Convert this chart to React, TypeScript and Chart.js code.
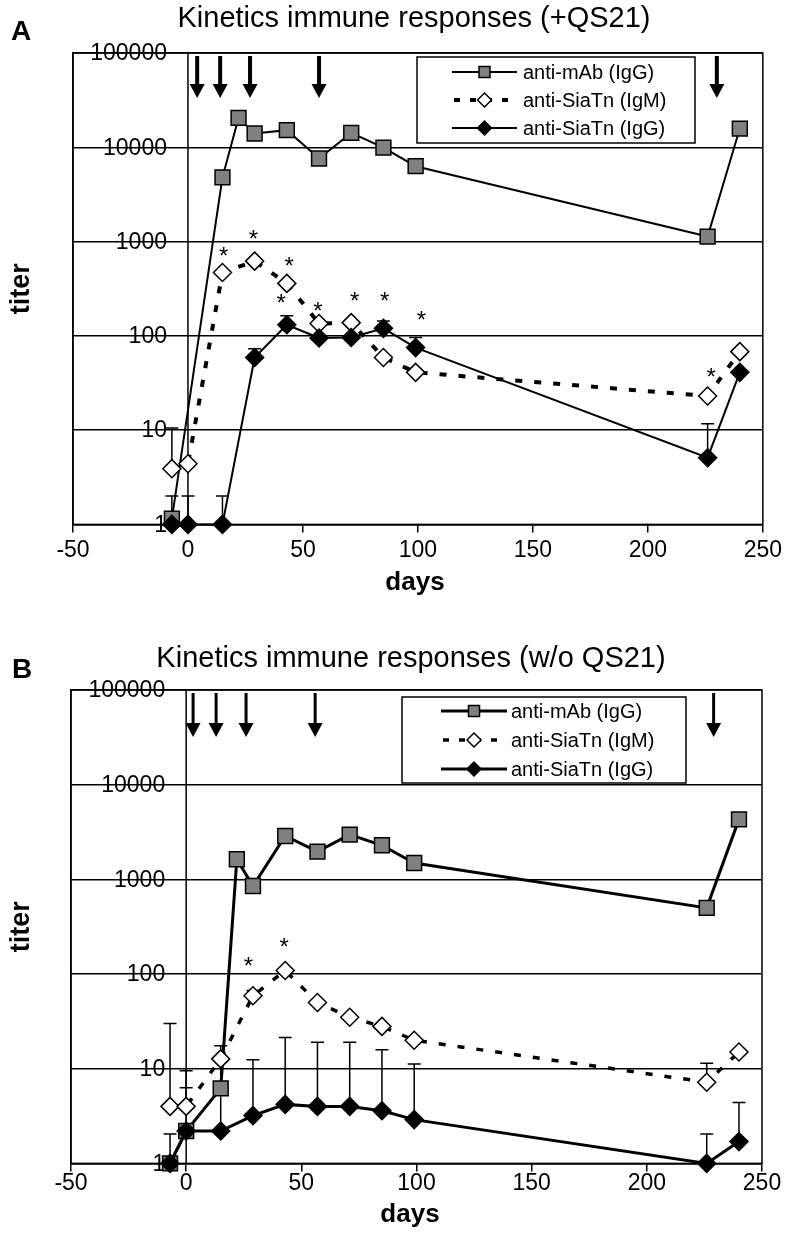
import React, { useEffect, useRef } from 'react';
import { Chart, registerables } from 'chart.js';

Chart.register(...registerables);

const FONT = '"Liberation Sans", Arial, Helvetica, sans-serif';

// ---------- Panel A (+QS21) ----------
const A_MAB_DAYS = [-7, 15, 22, 29, 43, 57, 71, 85, 99, 226, 240];
const A_MAB = [1.15, 4800, 20500, 14000, 15200, 7600, 14200, 9900, 6300, 1130, 15800];
const A_DAYS = [-7, 0, 15, 29, 43, 57, 71, 85, 99, 226, 240];
const A_IGM = [3.9, 4.4, 470, 620, 360, 135, 138, 59, 41, 23, 68];
const A_IGG = [1, 1, 1, 59, 131, 95, 96, 120, 75, 5.1, 41];
const A_IGM_ERR = [10.5, null, null, null, null, null, null, null, null, null, null];
const A_IGG_ERR = [2, 2, 2, 73, 163, null, null, 144, 96, 11.7, null];
const A_ARROWS = [4, 14, 27, 57, 230];
const A_STAR_DAYS = [15.5, 28.5, 44, 40.5, 56.5, 72.5, 85.5, 101.5, 227.5];
const A_STAR_VALUES = [800, 1220, 630, 255, 210, 265, 265, 170, 42];

// ---------- Panel B (w/o QS21) ----------
const B_MAB_DAYS = [-7, 0, 15, 22, 29, 43, 57, 71, 85, 99, 226, 240];
const B_MAB = [1, 2.2, 6.2, 1630, 850, 2870, 1960, 2970, 2290, 1490, 500, 4300];
const B_DAYS = [-7, 0, 15, 29, 43, 57, 71, 85, 99, 226, 240];
const B_IGM = [4.0, 4.0, 12.7, 59, 109, 50, 35, 28, 20, 7.2, 15];
const B_IGG = [1, 2.2, 2.2, 3.2, 4.2, 4.0, 4.0, 3.6, 2.9, 1, 1.7];
const B_IGM_ERR = [30, 9.5, null, 67, null, null, null, null, null, 11.4, null];
const B_IGG_ERR = [2.05, 6.3, 17.5, 12.4, 21.4, 19, 19, 15.9, 11.2, 2.04, 4.4];
const B_ARROWS = [3, 13, 26, 56, 229];
const B_STAR_DAYS = [27, 42.5];
const B_STAR_VALUES = [139, 222];

const Y_TICKS = [1, 10, 100, 1000, 10000, 100000];
const X_MIN = -50;
const X_MAX = 250;
const SERIES_LABELS = ['anti-mAb (IgG)', 'anti-SiaTn (IgM)', 'anti-SiaTn (IgG)'];

type Cfg = {
  top: number;
  height: number;
  letter: string;
  title: string;
  titleX: number;
  titleY: number;
  letterX: number;
  letterY: number;
  daysX: number;
  daysOffset: number;
  tickPad: number;
  padding: { left: number; right: number; top: number; bottom: number };
  lw: number;
  dashLw: number;
  mabDays: number[];
  mab: number[];
  days: number[];
  igm: number[];
  igg: number[];
  igmErr: (number | null)[];
  iggErr: (number | null)[];
  arrows: number[];
  arrowW: number;
  arrowLen: number;
  starDays: number[];
  starValues: number[];
  legend: { x1: number; y1: number; x2: number; y2: number; rows: number[]; l1: number; l2: number; tx: number };
};

const CFG_A: Cfg = {
  top: 0,
  height: 600,
  letter: 'A',
  title: 'Kinetics immune responses (+QS21)',
  titleX: 414,
  titleY: 27,
  letterX: 11,
  letterY: 40,
  daysX: 415,
  daysOffset: 66,
  tickPad: 4,
  padding: { left: 73, right: 22, top: 53, bottom: 32 },
  lw: 2,
  dashLw: 4,
  mabDays: A_MAB_DAYS,
  mab: A_MAB,
  days: A_DAYS,
  igm: A_IGM,
  igg: A_IGG,
  igmErr: A_IGM_ERR,
  iggErr: A_IGG_ERR,
  arrows: A_ARROWS,
  arrowW: 4,
  arrowLen: 45,
  starDays: A_STAR_DAYS,
  starValues: A_STAR_VALUES,
  legend: { x1: 417, y1: 57, x2: 695, y2: 143, rows: [72, 100, 128], l1: 452, l2: 517, tx: 523 },
};

const CFG_B: Cfg = {
  top: 600,
  height: 636,
  letter: 'B',
  title: 'Kinetics immune responses (w/o QS21)',
  titleX: 411,
  titleY: 67,
  letterX: 12,
  letterY: 78,
  daysX: 410,
  daysOffset: 59,
  tickPad: -2,
  padding: { left: 71, right: 24, top: 90, bottom: 41 },
  lw: 3,
  dashLw: 3.5,
  mabDays: B_MAB_DAYS,
  mab: B_MAB,
  days: B_DAYS,
  igm: B_IGM,
  igg: B_IGG,
  igmErr: B_IGM_ERR,
  iggErr: B_IGG_ERR,
  arrows: B_ARROWS,
  arrowW: 3,
  arrowLen: 47,
  starDays: B_STAR_DAYS,
  starValues: B_STAR_VALUES,
  legend: { x1: 402, y1: 97, x2: 686, y2: 183, rows: [111, 140, 169], l1: 441, l2: 507, tx: 511 },
};

function drawMarker(ctx: CanvasRenderingContext2D, kind: string, x: number, y: number, r: number, fill: string) {
  ctx.save();
  ctx.beginPath();
  if (kind === 'rect') {
    ctx.rect(x - r, y - r, 2 * r, 2 * r);
  } else {
    ctx.moveTo(x - r, y);
    ctx.lineTo(x, y - r);
    ctx.lineTo(x + r, y);
    ctx.lineTo(x, y + r);
    ctx.closePath();
  }
  ctx.fillStyle = fill;
  ctx.fill();
  ctx.lineWidth = 1.5;
  ctx.strokeStyle = '#000';
  ctx.setLineDash([]);
  ctx.stroke();
  ctx.restore();
}

function makePlugin(cfg: Cfg) {
  return {
    id: 'panelDecor' + cfg.letter,
    beforeDatasetsDraw(chart: any) {
      const { ctx, chartArea: ca, scales } = chart;
      const xs = scales.x;
      const ys = scales.y;
      ctx.save();
      ctx.strokeStyle = '#000';
      ctx.lineWidth = 1.5;
      ctx.strokeRect(ca.left, ca.top, ca.right - ca.left, ca.bottom - ca.top);
      const x0 = xs.getPixelForValue(0);
      ctx.beginPath();
      ctx.moveTo(x0, ca.top);
      ctx.lineTo(x0, ca.bottom);
      ctx.stroke();
      ctx.fillStyle = '#000';
      ctx.font = `23px ${FONT}`;
      ctx.textAlign = 'right';
      ctx.textBaseline = 'middle';
      Y_TICKS.forEach((v) => {
        ctx.fillText(String(v), x0 - 21, ys.getPixelForValue(v) + 1);
      });
      const drawErr = (days: number[], vals: number[], errs: (number | null)[]) => {
        days.forEach((d, i) => {
          const e = errs[i];
          if (e == null) return;
          const px = xs.getPixelForValue(d);
          const y1 = ys.getPixelForValue(vals[i]);
          const y2 = ys.getPixelForValue(e);
          ctx.beginPath();
          ctx.moveTo(px, y1);
          ctx.lineTo(px, y2);
          ctx.moveTo(px - 6.5, y2);
          ctx.lineTo(px + 6.5, y2);
          ctx.lineWidth = 1.5;
          ctx.strokeStyle = '#000';
          ctx.stroke();
        });
      };
      drawErr(cfg.days, cfg.igm, cfg.igmErr);
      drawErr(cfg.days, cfg.igg, cfg.iggErr);
      ctx.restore();
    },
    afterDraw(chart: any) {
      const { ctx, chartArea: ca, scales } = chart;
      const xs = scales.x;
      const ys = scales.y;
      ctx.save();
      ctx.fillStyle = '#000';
      ctx.font = `29px ${FONT}`;
      ctx.textAlign = 'center';
      ctx.textBaseline = 'alphabetic';
      ctx.fillText(cfg.title, cfg.titleX, cfg.titleY);
      ctx.font = `bold 28px ${FONT}`;
      ctx.textAlign = 'left';
      ctx.fillText(cfg.letter, cfg.letterX, cfg.letterY);
      ctx.font = `bold 26px ${FONT}`;
      ctx.textAlign = 'center';
      ctx.fillText('days', cfg.daysX, ca.bottom + cfg.daysOffset);
      ctx.save();
      ctx.translate(22, (ca.top + ca.bottom) / 2);
      ctx.rotate(-Math.PI / 2);
      ctx.font = `bold 27px ${FONT}`;
      ctx.textBaseline = 'middle';
      ctx.fillText('titer', 0, 0);
      ctx.restore();
      ctx.font = `24px ${FONT}`;
      ctx.textAlign = 'center';
      ctx.textBaseline = 'alphabetic';
      cfg.starDays.forEach((d, i) => {
        const px = xs.getPixelForValue(d);
        const py = ys.getPixelForValue(cfg.starValues[i]);
        ctx.fillText('*', px, py + 13.5);
      });
      cfg.arrows.forEach((d) => {
        const px = xs.getPixelForValue(d);
        const t = ca.top + 3;
        const tip = ca.top + cfg.arrowLen;
        const hh = 14;
        const hw = 7.5;
        ctx.fillRect(px - cfg.arrowW / 2, t, cfg.arrowW, tip - hh - t + 1);
        ctx.beginPath();
        ctx.moveTo(px - hw, tip - hh);
        ctx.lineTo(px + hw, tip - hh);
        ctx.lineTo(px, tip);
        ctx.closePath();
        ctx.fill();
      });
      const L = cfg.legend;
      ctx.fillStyle = '#fff';
      ctx.fillRect(L.x1, L.y1, L.x2 - L.x1, L.y2 - L.y1);
      ctx.strokeStyle = '#000';
      ctx.lineWidth = 1.5;
      ctx.strokeRect(L.x1, L.y1, L.x2 - L.x1, L.y2 - L.y1);
      const mx = (L.l1 + L.l2) / 2;
      const kinds = ['rect', 'rectRot', 'rectRot'];
      const fills = ['#808080', '#fff', '#000'];
      L.rows.forEach((ry, i) => {
        ctx.save();
        ctx.beginPath();
        ctx.strokeStyle = '#000';
        if (i === 1) {
          ctx.lineWidth = cfg.dashLw;
          ctx.setLineDash([6, 10]);
          ctx.lineDashOffset = -2;
        } else {
          ctx.lineWidth = cfg.lw;
        }
        ctx.moveTo(L.l1, ry);
        ctx.lineTo(L.l2, ry);
        ctx.stroke();
        ctx.restore();
        drawMarker(ctx, kinds[i], mx, ry, i === 0 ? 5.5 : 7, fills[i]);
        ctx.fillStyle = '#000';
        ctx.font = `20px ${FONT}`;
        ctx.textAlign = 'left';
        ctx.textBaseline = 'middle';
        ctx.fillText(SERIES_LABELS[i], L.tx, ry + 1);
      });
      ctx.restore();
    },
  };
}

function Panel({ cfg }: { cfg: Cfg }) {
  const ref = useRef<HTMLCanvasElement>(null);
  useEffect(() => {
    const canvas = ref.current;
    if (!canvas) return;
    const toXY = (ds: number[], vs: number[]) => ds.map((d, i) => ({ x: d, y: vs[i] }));
    const chart = new Chart(canvas, {
      type: 'line',
      data: {
        datasets: [
          {
            label: SERIES_LABELS[0],
            data: toXY(cfg.mabDays, cfg.mab),
            borderColor: '#000',
            borderWidth: cfg.lw,
            backgroundColor: '#808080',
            pointStyle: 'rect',
            pointRadius: 10.5,
            pointBorderWidth: 1.5,
            pointBorderColor: '#000',
            pointBackgroundColor: '#808080',
            tension: 0,
            clip: false,
            order: 3,
          },
          {
            label: SERIES_LABELS[1],
            data: toXY(cfg.days, cfg.igm),
            borderColor: '#000',
            borderWidth: cfg.dashLw,
            borderDash: [7, 12],
            backgroundColor: '#fff',
            pointStyle: 'rectRot',
            pointRadius: 9,
            pointBorderWidth: 1.5,
            pointBorderColor: '#000',
            pointBackgroundColor: '#fff',
            tension: 0,
            clip: false,
            order: 2,
          },
          {
            label: SERIES_LABELS[2],
            data: toXY(cfg.days, cfg.igg),
            borderColor: '#000',
            borderWidth: cfg.lw,
            backgroundColor: '#000',
            pointStyle: 'rectRot',
            pointRadius: 9,
            pointBorderWidth: 1.5,
            pointBorderColor: '#000',
            pointBackgroundColor: '#000',
            tension: 0,
            clip: false,
            order: 1,
          },
        ],
      },
      options: {
        responsive: false,
        animation: false,
        devicePixelRatio: 1,
        events: [],
        layout: { padding: cfg.padding },
        plugins: {
          legend: { display: false },
          tooltip: { enabled: false },
          title: { display: false },
        },
        scales: {
          x: {
            type: 'linear',
            position: 'bottom',
            min: X_MIN,
            max: X_MAX,
            ticks: {
              stepSize: 50,
              autoSkip: false,
              maxRotation: 0,
              padding: cfg.tickPad,
              color: '#000',
              font: { family: FONT, size: 23 },
            },
            grid: { drawOnChartArea: false, drawTicks: true, tickLength: 8, color: '#000', lineWidth: 1.5 },
            border: { display: true, color: '#000', width: 1.5 },
          },
          y: {
            type: 'logarithmic',
            position: 'left',
            min: 1,
            max: 100000,
            afterBuildTicks: (scale: any) => {
              scale.ticks = Y_TICKS.map((v) => ({ value: v }));
            },
            ticks: { display: false },
            grid: { color: '#000', lineWidth: 1.5, drawTicks: false },
            border: { display: true, color: '#000', width: 1.5 },
          },
        },
      } as any,
      plugins: [makePlugin(cfg)],
    });
    return () => chart.destroy();
  }, [cfg]);
  return (
    <canvas
      ref={ref}
      width={786}
      height={cfg.height}
      style={{ position: 'absolute', left: 0, top: cfg.top, width: 786, height: cfg.height, display: 'block' }}
    />
  );
}

export default function App() {
  return (
    <div style={{ position: 'absolute', left: 0, top: 0, width: 786, height: 1236, background: '#fff' }}>
      <Panel cfg={CFG_A} />
      <Panel cfg={CFG_B} />
    </div>
  );
}
